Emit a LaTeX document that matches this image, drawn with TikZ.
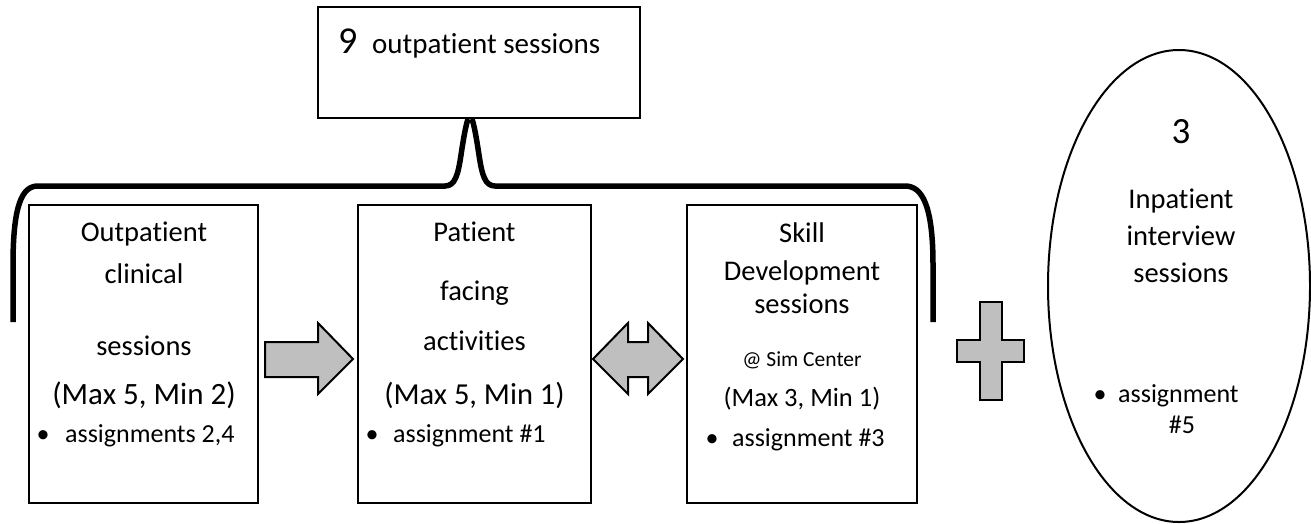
\documentclass[tikz,border=0pt]{standalone}
\usepackage{fontspec}
\setmainfont[Ligatures=NoCommon]{Carlito}
\usetikzlibrary{shapes.geometric}
\definecolor{arrowgray}{RGB}{191,191,191}
\tikzset{
  boxnode/.style={draw=black, line width=2pt, inner sep=0pt, fill=white},
  txt/.style={anchor=base, inner sep=0pt, font=\fontsize{28.5}{34}\selectfont},
  maxtxt/.style={anchor=base, inner sep=0pt, font=\fontsize{31}{36}\selectfont},
  asgtxt/.style={anchor=base west, inner sep=0pt, font=\fontsize{26}{31}\selectfont},
  bultxt/.style={anchor=base, inner sep=0pt, font=\fontsize{26}{31}\selectfont},
  smalltxt/.style={anchor=base, inner sep=0pt, font=\fontsize{21.5}{26}\selectfont},
  bigtxt/.style={anchor=base west, inner sep=0pt, font=\fontsize{38}{44}\selectfont},
  bracestroke/.style={line width=5.5pt, draw=black},
  blockarrow/.style={draw=black, line width=2pt, fill=arrowgray, line join=miter}
}
\begin{document}
\begin{tikzpicture}[x=1pt,y=-1pt]
\path[use as bounding box] (0,0) rectangle (1311,523);

% top box
\node[boxnode, minimum width=322, minimum height=111] (top) at (479,62.5) {};
\node[bigtxt] (nine) at (338,53) {9};
\node[txt, anchor=base west, font=\fontsize{29}{34}\selectfont] (toptext) at (372,53) {outpatient sessions};

% brace
\coordinate (bl) at (13,322);
\coordinate (br) at (933,322);
\draw[bracestroke] (bl) -- (13,265) .. controls (13,205) and (22,186) .. (38,186) -- (445,186) .. controls (455,186) and (458,175) .. (461,155) .. controls (464,135) and (466,125) .. (468,119);
\draw[bracestroke] (472,119) .. controls (474,125) and (476,135) .. (479,155) .. controls (482,175) and (485,186) .. (495,186) -- (905,186) .. controls (922,186) and (933,205) .. (933,265) -- (br);

% boxes
\node[boxnode, minimum width=229, minimum height=298] (b1) at (143.5,354) {};
\node[boxnode, minimum width=233, minimum height=298] (b2) at (474.5,354) {};
\node[boxnode, minimum width=230, minimum height=298] (b3) at (802,354) {};
\node[draw=black, line width=2pt, ellipse, inner sep=0pt, minimum width=262, minimum height=472] (ell) at (1179,286) {};

% box 1 text
\node[txt] (b1a) at (144,241) {Outpatient};
\node[txt] (b1b) at (144,283) {clinical};
\node[txt] (b1c) at (144,355) {sessions};
\node[maxtxt] (b1d) at (144,404) {(Max 5, Min 2)};
\node[bultxt] (b1bul) at (43,442) {•};
\node[asgtxt] (b1e) at (65,442) {assignments 2,4};

% box 2 text
\node[txt] (b2a) at (474.5,241) {Patient};
\node[txt] (b2b) at (474.5,300) {facing};
\node[txt] (b2c) at (474.5,350) {activities};
\node[maxtxt, font=\fontsize{30.5}{36}\selectfont] (b2d) at (474.5,404) {(Max 5, Min 1)};
\node[bultxt] (b2bul) at (372,442) {•};
\node[asgtxt] (b2e) at (393,442) {assignment \#1};

% box 3 text
\node[txt] (b3a) at (802,242) {Skill};
\node[txt] (b3b) at (802,280) {Development};
\node[txt] (b3c) at (802,313) {sessions};
\node[smalltxt] (b3d) at (802,366) {@ Sim Center};
\node[bultxt, font=\fontsize{26.5}{31}\selectfont] (b3e) at (802,406) {(Max 3, Min 1)};
\node[bultxt] (b3bul) at (712,446) {•};
\node[asgtxt] (b3f) at (732,446) {assignment \#3};

% ellipse text
\node[txt, font=\fontsize{37}{44}\selectfont] (e1) at (1181,143) {3};
\node[txt] (e2) at (1181,208) {Inpatient};
\node[txt] (e3) at (1181,245) {interview};
\node[txt] (e4) at (1181,282) {sessions};
\node[bultxt] (ebul) at (1100,402) {•};
\node[asgtxt] (e5) at (1118,402) {assignment};
\node[bultxt] (e6) at (1182,433) {\#5};

% block arrows
\draw[blockarrow] (265,342) -- (318,342) -- (318,323) -- (353,359) -- (318,394) -- (318,377) -- (265,377) -- cycle;
\draw[blockarrow] (593,359) -- (628,323) -- (628,342) -- (648,342) -- (648,323) -- (683,359) -- (648,394) -- (648,377) -- (628,377) -- (628,394) -- cycle;
\draw[blockarrow] (980,302) -- (1002,302) -- (1002,340) -- (1024,340) -- (1024,362) -- (1002,362) -- (1002,400) -- (980,400) -- (980,362) -- (957,362) -- (957,340) -- (980,340) -- cycle;
\end{tikzpicture}
\end{document}
